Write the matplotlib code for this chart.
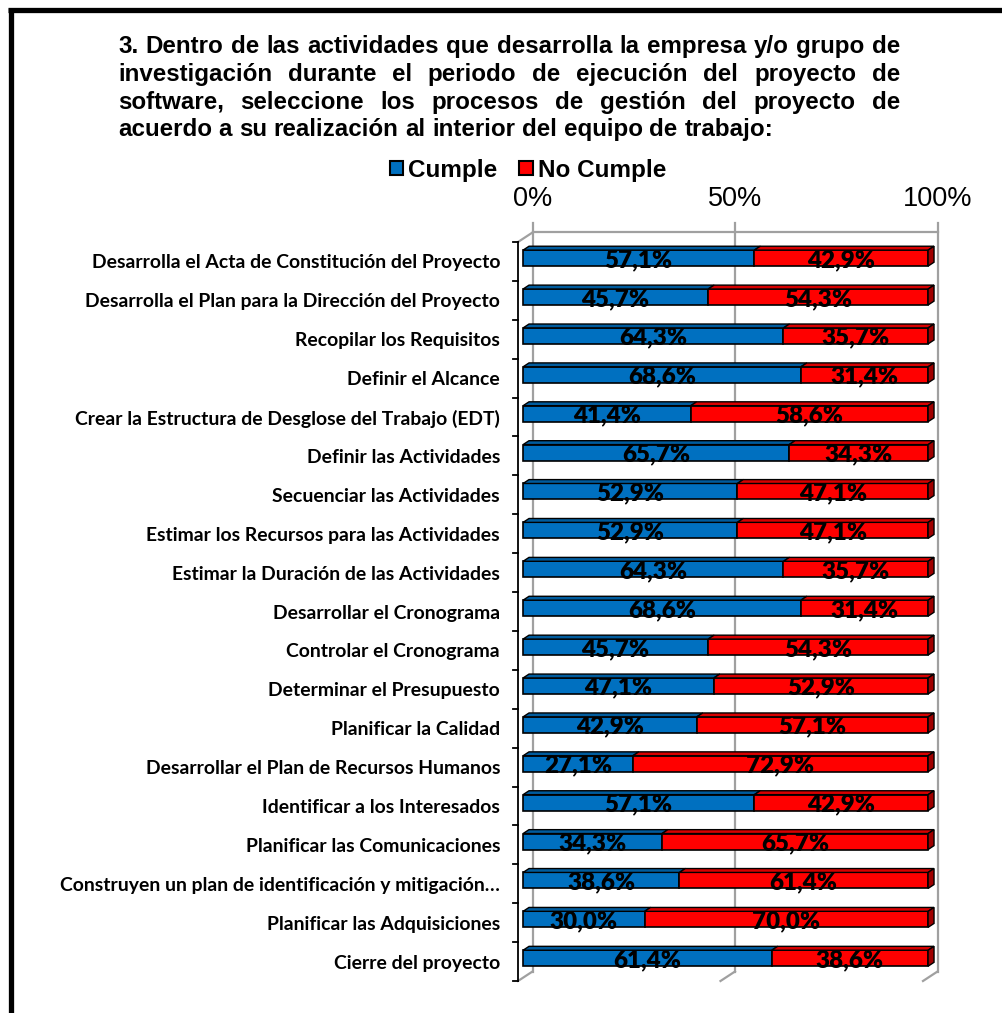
import matplotlib
matplotlib.use("Agg")
import matplotlib.pyplot as plt
from matplotlib.patches import Polygon, Patch
from matplotlib.lines import Line2D

# ---------------- data ----------------
categories = [
    "Desarrolla el Acta de Constitución del Proyecto",
    "Desarrolla el Plan para la Dirección del Proyecto",
    "Recopilar los Requisitos",
    "Definir el Alcance",
    "Crear la Estructura de Desglose del Trabajo (EDT)",
    "Definir las Actividades",
    "Secuenciar las Actividades",
    "Estimar los Recursos para las Actividades",
    "Estimar la Duración de las Actividades",
    "Desarrollar el Cronograma",
    "Controlar el Cronograma",
    "Determinar el Presupuesto",
    "Planificar la Calidad",
    "Desarrollar el Plan de Recursos Humanos",
    "Identificar a los Interesados",
    "Planificar las Comunicaciones",
    "Construyen un plan de identificación y mitigación…",
    "Planificar las Adquisiciones",
    "Cierre del proyecto",
]
cumple = [57.1, 45.7, 64.3, 68.6, 41.4, 65.7, 52.9, 52.9, 64.3, 68.6,
          45.7, 47.1, 42.9, 27.1, 57.1, 34.3, 38.6, 30.0, 61.4]
no_cumple = [42.9, 54.3, 35.7, 31.4, 58.6, 34.3, 47.1, 47.1, 35.7, 31.4,
             54.3, 52.9, 57.1, 72.9, 42.9, 65.7, 61.4, 70.0, 38.6]
series_names = ["Cumple", "No Cumple"]
x_ticks = [0, 50, 100]
x_tick_labels = ["0%", "50%", "100%"]
title_lines = [
    "3. Dentro de las actividades que desarrolla la empresa y/o grupo de",
    "investigación durante el periodo de ejecución del proyecto de",
    "software, seleccione los procesos de gestión del proyecto de",
    "acuerdo a su realización al interior del equipo de trabajo:",
]

# ---------------- styles ----------------
W, H = 1003, 1013
front_col = ["#0070C0", "#FF0000"]
top_col = ["#005C9E", "#D80000"]
side_col = ["#004E86", "#A00000"]
grid_col = "#A0A0A0"

fig = plt.figure(figsize=(W / 100, H / 100), dpi=100)
fig.patch.set_facecolor("white")

# plot area (front plane)
x0px, x1px, y0px, y1px = 518, 923, 242, 981
ax = fig.add_axes([x0px / W, 1 - y1px / H, (x1px - x0px) / W, (y1px - y0px) / H])
n = len(categories)
ax.set_xlim(0, 100)
ax.set_ylim(n - 0.5, -0.5)
ax.axis("off")

pxx = (x1px - x0px) / 100.0
pxy = (y1px - y0px) / n
DX = 14.5 / pxx          # full depth, x units
DY = -9.5 / pxy          # full depth, y units (up)
fdep, bdep = 0.35, 0.76  # bar front/back depth fractions
bh = 16.0 / pxy          # bar front-face height

# ---------- walls / grid ----------
top, bot = -0.5, n - 0.5
for v in x_ticks:
    ax.add_line(Line2D([v + DX, v + DX], [top + DY - 9 / pxy, bot + DY],
                       color=grid_col, lw=1.6, zorder=1, clip_on=False))
    ax.add_line(Line2D([v, v + DX], [bot, bot + DY],
                       color=grid_col, lw=1.6, zorder=1, clip_on=False))
ax.add_line(Line2D([DX, 100 + DX], [top + DY, top + DY],
                   color=grid_col, lw=1.6, zorder=1, clip_on=False))
ax.add_line(Line2D([0, DX], [top, top + DY],
                   color=grid_col, lw=1.6, zorder=1, clip_on=False))
# category axis
ax.add_line(Line2D([0, 0], [top, bot], color="black", lw=1.3, zorder=2, clip_on=False))
for k in range(n + 1):
    yb = k - 0.5
    ax.add_line(Line2D([-5.5 / pxx, 0], [yb, yb], color="black", lw=1.3,
                       zorder=2, clip_on=False))

# ---------- fonts ----------
renderer = fig.canvas.get_renderer()

def text_w(txt, size, family, weight):
    t = fig.text(0, 0, txt, fontsize=size, family=family, weight=weight)
    w = t.get_window_extent(renderer).width
    t.remove()
    return w

def fit_size(txt, target_px, family, weight, base=12):
    return base * target_px / text_w(txt, base, family, weight)

cat_fs = fit_size(categories[16], 437, "Lato", "bold")
val_fs = fit_size("57,1%", 68, "Lato", "heavy")
title_fs = fit_size(title_lines[-1], 652, "Liberation Sans", "bold")
leg_fs = fit_size("No Cumple", 127, "Liberation Sans", "bold")

# ---------- bars ----------
oxf, oyf = fdep * DX, fdep * DY
oxb, oyb = bdep * DX, bdep * DY
for i in range(n):
    vals = [cumple[i], no_cumple[i]]
    left = 0.0
    ytf = i - bh / 2 + oyf
    ybf = i + bh / 2 + oyf
    ytb = i - bh / 2 + oyb
    ybb = i + bh / 2 + oyb
    for s, v in enumerate(vals):
        xa, xb = left, left + v
        front = Polygon([(xa + oxf, ytf), (xb + oxf, ytf), (xb + oxf, ybf), (xa + oxf, ybf)],
                        closed=True, fc=front_col[s], ec="black", lw=1.2, zorder=3,
                        clip_on=False, joinstyle="miter")
        ax.add_patch(front)
        topf = Polygon([(xa + oxf, ytf), (xb + oxf, ytf), (xb + oxb, ytb), (xa + oxb, ytb)],
                       closed=True, fc=top_col[s], ec="black", lw=1.0, zorder=5,
                       clip_on=False, joinstyle="miter")
        ax.add_patch(topf)
        if s == len(vals) - 1:
            side = Polygon([(xb + oxf, ytf), (xb + oxb, ytb), (xb + oxb, ybb), (xb + oxf, ybf)],
                           closed=True, fc=side_col[s], ec="black", lw=1.0, zorder=5,
                           clip_on=False, joinstyle="miter")
            ax.add_patch(side)
        lab = f"{v:.1f}%".replace(".", ",")
        ax.text((xa + xb) / 2 + oxf, ybf + 0.8 / pxy, lab, ha="center", va="baseline",
                fontsize=val_fs, family="Lato", weight="heavy", color="black",
                zorder=4, clip_on=False)
        left = xb
    # category label
    ax.text(-18 / pxx, i + 1.5 / pxy, categories[i], ha="right", va="center",
            fontsize=cat_fs, family="Lato", weight="bold", color="black", clip_on=False)

# ---------- x tick labels (top) ----------
for v, lab in zip(x_ticks, x_tick_labels):
    ax.text(v + DX, top + (199 - y0px) / pxy, lab, ha="center", va="center",
            fontsize=19.5, family="Liberation Sans", color="black", clip_on=False)

# ---------- legend ----------
handles = [Patch(facecolor=front_col[0], edgecolor="black", lw=1.5),
           Patch(facecolor=front_col[1], edgecolor="black", lw=1.5)]
leg = fig.legend(handles, series_names, loc="center", ncol=2,
                 bbox_to_anchor=(528 / W, 1 - 170 / H), frameon=False,
                 prop={"family": "Liberation Sans", "weight": "bold", "size": leg_fs},
                 handlelength=0.55, handleheight=0.55, handletextpad=0.2,
                 columnspacing=0.9, borderpad=0)

# ---------- justified title ----------
tx0, tx1 = 118, 900
base0, lstep = 53, 27.8
space_w = text_w("a a", title_fs, "Liberation Sans", "bold") - text_w("aa", title_fs, "Liberation Sans", "bold")
for li, line in enumerate(title_lines):
    words = line.split()
    widths = [text_w(w_, title_fs, "Liberation Sans", "bold") for w_ in words]
    if li < len(title_lines) - 1 and len(words) > 1:
        gap = (tx1 - tx0 - sum(widths)) / (len(words) - 1)
    else:
        gap = space_w
    xpos = tx0
    yb = base0 + lstep * li
    for w_, wd in zip(words, widths):
        fig.text(xpos / W, 1 - yb / H, w_, fontsize=title_fs, family="Liberation Sans",
                 weight="bold", ha="left", va="baseline", color="black")
        xpos += wd + gap

# ---------- outer border (top and left) ----------
fig.add_artist(Line2D([8 / W, 1.0], [1 - 10 / H, 1 - 10 / H], color="black", lw=3.8,
                      transform=fig.transFigure, solid_capstyle="butt"))
fig.add_artist(Line2D([10.5 / W, 10.5 / W], [1 - 8 / H, 0.0], color="black", lw=3.8,
                      transform=fig.transFigure, solid_capstyle="butt"))

fig.savefig("out.png", dpi=100, facecolor="white")
